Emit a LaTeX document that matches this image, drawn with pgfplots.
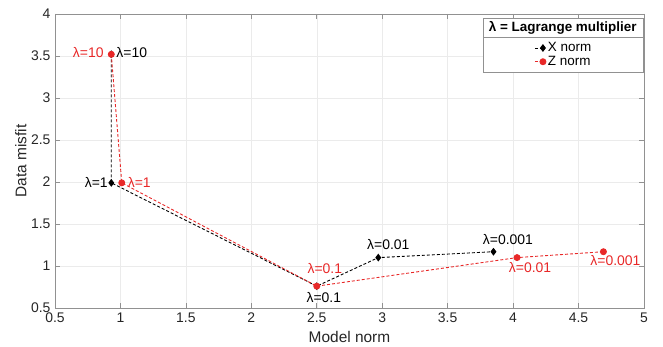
\documentclass[border=0pt]{standalone}
\usepackage{pgfplots}
\pgfplotsset{compat=1.18}
\usetikzlibrary{calc}
\usepackage{fontspec}
\setmainfont{Liberation Sans}

\definecolor{zred}{RGB}{232,40,40}
\definecolor{axgray}{RGB}{145,145,145}
\definecolor{gridgray}{RGB}{235,235,235}

\newcommand{\tickfont}{\fontsize{14}{16}\selectfont}
\newcommand{\labfont}{\fontsize{15.5}{17}\selectfont}
\newcommand{\ptfont}{\fontsize{14}{16}\selectfont}
\newcommand{\legfont}{\fontsize{13.5}{15}\selectfont}

\begin{document}
\begin{tikzpicture}
\begin{axis}[
  scale only axis,
  width=589bp, height=294bp,
  xmin=0.5, xmax=5, ymin=0.5, ymax=4,
  xtick={0.5,1,1.5,2,2.5,3,3.5,4,4.5,5},
  ytick={0.5,1,1.5,2,2.5,3,3.5,4},
  /pgf/number format/assume math mode=true,
  tick label style={font=\tickfont, text=black!85},
  xticklabel style={yshift=-1bp},
  yticklabel style={xshift=-1bp},
  tick align=inside,
  major tick length=5bp,
  tick style={axgray, line width=0.6bp},
  axis line style={axgray, line width=0.7bp},
  grid=major,
  major grid style={gridgray, line width=0.5bp},
  xlabel={Model norm}, ylabel={Data misfit},
  label style={font=\labfont, text=black!85},
  xlabel style={at={(axis description cs:0.5,-0.099)}, anchor=center},
  ylabel style={at={(axis description cs:-0.058,0.5)}, anchor=center},
  clip=false,
  legend style={at={(0.864,0.861)}, anchor=center, draw=none, fill=none,
    font=\legfont, inner sep=1bp, row sep=-1bp},
  legend cell align=left,
  legend image code/.code={
    \draw[mark repeat=2, mark phase=2, #1] plot coordinates {(0bp,0bp) (8bp,0bp)};
  },
]

% X norm curve
\addplot[black, dashed, line width=0.9bp, dash pattern=on 3bp off 2bp,
  mark=diamond*, mark size=3.2bp, mark options={solid}]
  coordinates {(0.93,3.52) (0.93,1.99) (2.50,0.76) (2.97,1.10) (3.85,1.17)};
\addlegendentry{X norm}

% Z norm curve
\addplot[zred, dashed, line width=0.9bp, dash pattern=on 3bp off 2bp,
  mark=*, mark size=3bp, mark options={solid}]
  coordinates {(0.93,3.52) (1.01,1.99) (2.50,0.76) (4.03,1.10) (4.69,1.17)};
\addlegendentry{Z norm}

% lambda annotations
\begin{scope}[every node/.style={inner sep=0pt, font=\ptfont}]
\node[zred,  xshift=-23bp, yshift=2bp]   at (axis cs:0.93,3.52) {λ=10};
\node[black, xshift=20.5bp, yshift=2bp]  at (axis cs:0.93,3.52) {λ=10};
\node[black, xshift=-15bp]               at (axis cs:0.93,1.99) {λ=1};
\node[zred,  xshift=17.5bp]              at (axis cs:1.01,1.99) {λ=1};
\node[zred,  xshift=8bp, yshift=18bp]    at (axis cs:2.50,0.76) {λ=0.1};
\node[black, xshift=7bp, yshift=-11bp]   at (axis cs:2.50,0.76) {λ=0.1};
\node[black, xshift=10bp, yshift=13bp]   at (axis cs:2.97,1.10) {λ=0.01};
\node[black, xshift=14.5bp, yshift=12bp] at (axis cs:3.85,1.17) {λ=0.001};
\node[zred,  xshift=13bp, yshift=-10bp]  at (axis cs:4.03,1.10) {λ=0.01};
\node[zred,  xshift=12bp, yshift=-9bp]   at (axis cs:4.69,1.17) {λ=0.001};
\end{scope}

% legend frame with title row
\draw[axgray, line width=0.6bp, fill=white]
  (rel axis cs:0.728,0.803) rectangle (rel axis cs:0.998,0.986);
\draw[axgray, line width=0.6bp]
  (rel axis cs:0.728,0.922) -- (rel axis cs:0.998,0.922);
\node[font=\legfont\bfseries, inner sep=0pt] at (rel axis cs:0.862,0.954)
  {λ = Lagrange multiplier};
\end{axis}
\pgfresetboundingbox
\path[use as bounding box] ($(current axis.south west)+(-55bp,-39bp)$)
  rectangle ($(current axis.north east)+(19bp,14bp)$);
\end{tikzpicture}
\end{document}
